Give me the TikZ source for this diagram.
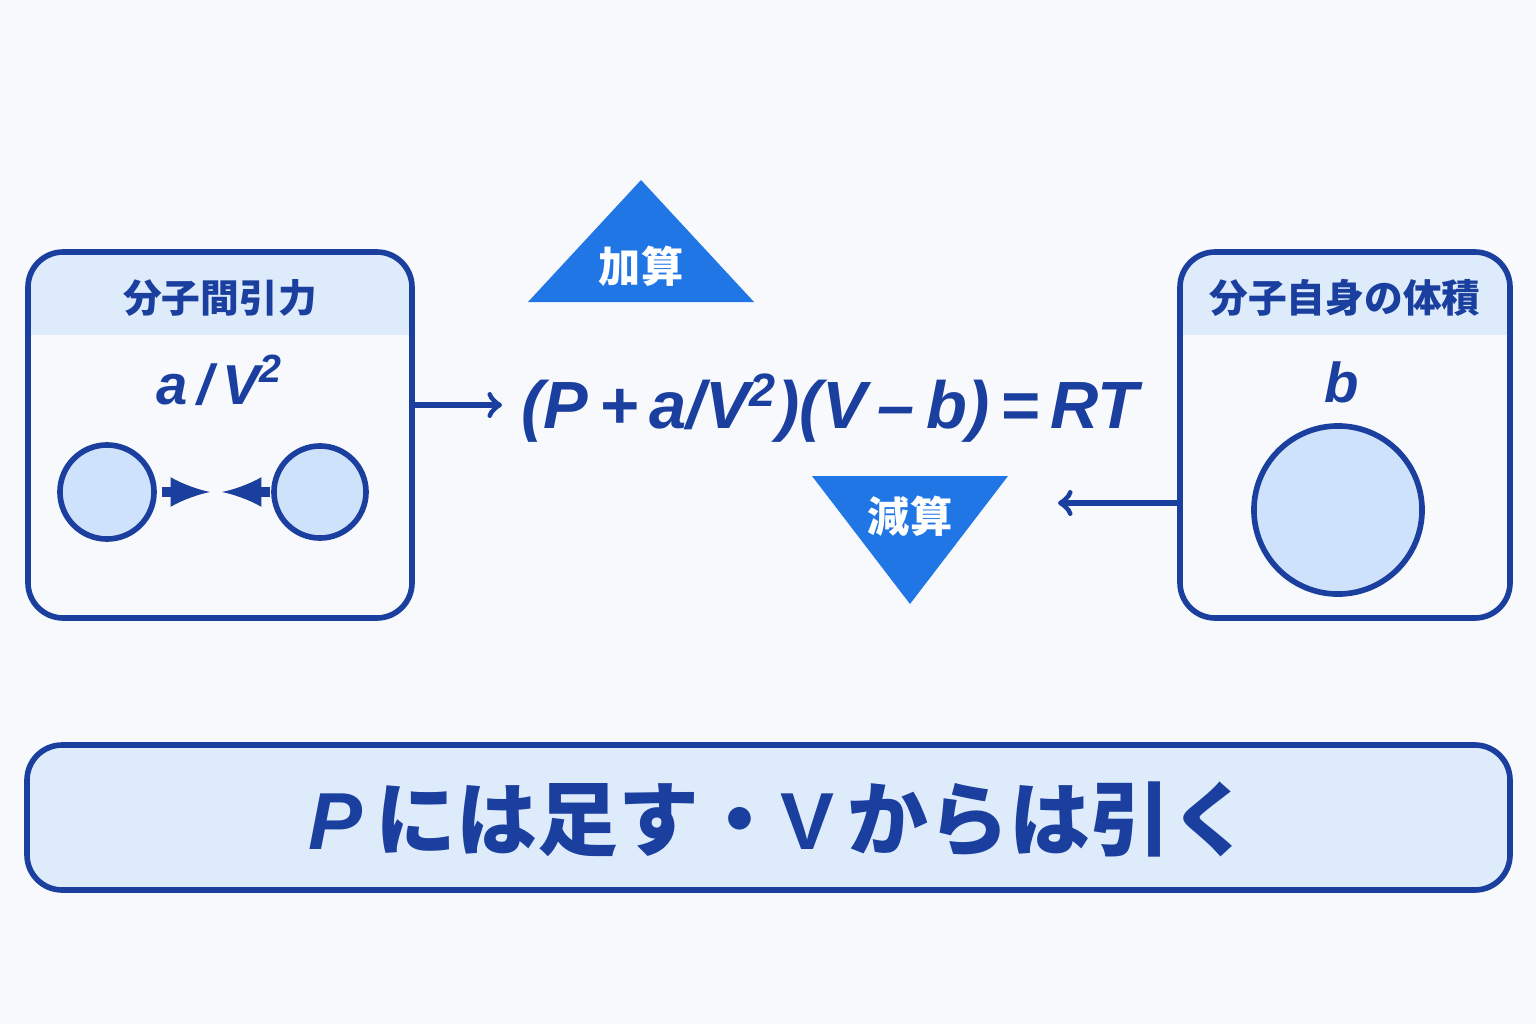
\documentclass[tikz,border=0pt]{standalone}
\usepackage{fontspec}
\setmainfont{Liberation Sans}
\newfontfamily\jpfont{Noto Sans CJK JP}
\usetikzlibrary{calc}
\usetikzlibrary{shapes,arrows}
\definecolor{navy}{HTML}{1A3F9E}
\definecolor{lite}{HTML}{DDEBFB}
\definecolor{bubble}{HTML}{CFE2FB}
\definecolor{tri}{HTML}{2176E6}
\definecolor{bg}{HTML}{F7F9FC}
\tikzset{
    panel/.style={draw=navy, line width=1.6pt, rounded corners=10pt},
    head/.style={font=\jpfont\bfseries\fontsize{11}{13}\selectfont, text=navy},
    mol/.style={draw=navy, line width=1.6pt, fill=bubble, circle, inner sep=0pt},
    lbl/.style={font=\bfseries\itshape\fontsize{16}{18}\selectfont, text=navy},
    tlabel/.style={font=\jpfont\bfseries\fontsize{12}{14}\selectfont, text=white}
}
\begin{document}
\begin{tikzpicture}[x=0.01cm,y=-0.01cm]
    \fill[bg] (0,0) rectangle (1536,1024);

    % left panel
    \begin{scope}
        \clip[rounded corners=10pt] (28,252) rectangle (412,618);
        \fill[lite] (28,252) rectangle (412,335);
    \end{scope}
    \draw[panel] (28,252) rectangle (412,618);
    \node[head] (attr) at (220,298) {分子間引力};
    \node[lbl] (aV) at (220,380) {a\,/\,V\textsuperscript{2}};
    \node[mol, minimum size=0.94cm] (m1) at (107,492) {};
    \node[mol, minimum size=0.92cm] (m2) at (320,492) {};
    \coordinate (p1) at (162,492);
    \coordinate (p2) at (210,492);
    \coordinate (p3) at (270,492);
    \coordinate (p4) at (222,492);
    \draw[navy, line width=2.8pt, -latex] (p1) -- (p2);
    \draw[navy, line width=2.8pt, -latex] (p3) -- (p4);

    % right panel
    \begin{scope}
        \clip[rounded corners=10pt] (1180,252) rectangle (1510,618);
        \fill[lite] (1180,252) rectangle (1510,335);
    \end{scope}
    \draw[panel] (1180,252) rectangle (1510,618);
    \node[head] (vol) at (1345,298) {分子自身の体積};
    \node[lbl] (bb) at (1342,382) {b};
    \node[mol, minimum size=1.68cm] (m3) at (1338,510) {};

    % equation
    \node[font=\bfseries\itshape\fontsize{19}{22}\selectfont, text=navy] (eq) at (830,408)
        {(P\,+\,a/V\textsuperscript{2})(V\,–\,b)\,=\,RT};
    \coordinate (q1) at (415,405);
    \coordinate (q0) at (502,405);
    \coordinate (q2) at (1178,503);
    \coordinate (q3) at (1058,503);
    \draw[navy, line width=1.6pt, -to] (q1) -- (q0);
    \draw[navy, line width=1.6pt, -to] (q2) -- (q3);

    % triangles
    \fill[tri] (641,180) -- (754,302) -- (528,302) -- cycle;
    \node[tlabel] (add) at (641,266) {加算};
    \fill[tri] (812,476) -- (1008,476) -- (910,604) -- cycle;
    \node[tlabel] (sub) at (910,516) {減算};

    % bottom banner
    \draw[panel, fill=lite] (27,745) rectangle (1510,890);
    \node[font=\jpfont\bfseries\fontsize{23}{26}\selectfont, text=navy] (rule) at (780,820)
        {{\rmfamily\bfseries\itshape P\,}には足す・{\rmfamily\bfseries V\,}からは引く};
\end{tikzpicture}
\end{document}
